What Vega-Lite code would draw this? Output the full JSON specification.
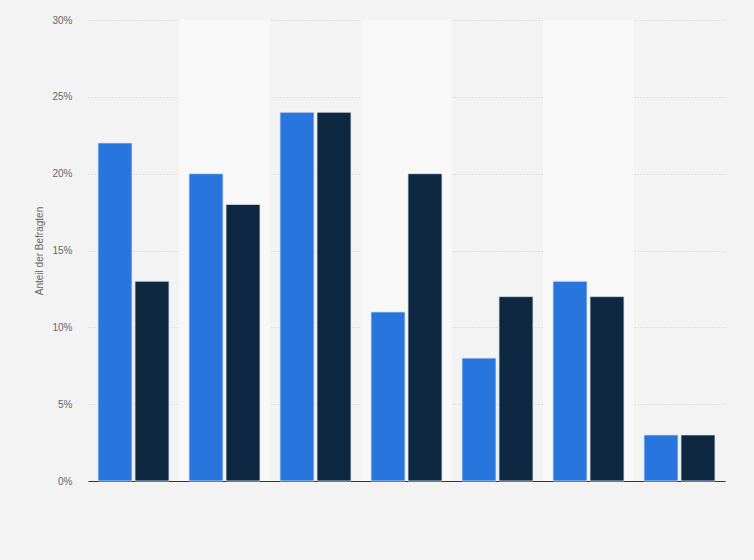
{
  "$schema": "https://vega.github.io/schema/vega-lite/v6.json",
  "width": 637,
  "height": 461,
  "autosize": {"type": "none"},
  "padding": {"left": 88, "top": 20, "right": 29, "bottom": 79},
  "background": "#f3f3f3",
  "config": {
    "view": {"stroke": null},
    "font": "Liberation Sans"
  },
  "data": {
    "values": [
      {"kategorie": "Kategorie 1", "gruppe": "Gruppe A", "anteil": 22},
      {"kategorie": "Kategorie 1", "gruppe": "Gruppe B", "anteil": 13},
      {"kategorie": "Kategorie 2", "gruppe": "Gruppe A", "anteil": 20},
      {"kategorie": "Kategorie 2", "gruppe": "Gruppe B", "anteil": 18},
      {"kategorie": "Kategorie 3", "gruppe": "Gruppe A", "anteil": 24},
      {"kategorie": "Kategorie 3", "gruppe": "Gruppe B", "anteil": 24},
      {"kategorie": "Kategorie 4", "gruppe": "Gruppe A", "anteil": 11},
      {"kategorie": "Kategorie 4", "gruppe": "Gruppe B", "anteil": 20},
      {"kategorie": "Kategorie 5", "gruppe": "Gruppe A", "anteil": 8},
      {"kategorie": "Kategorie 5", "gruppe": "Gruppe B", "anteil": 12},
      {"kategorie": "Kategorie 6", "gruppe": "Gruppe A", "anteil": 13},
      {"kategorie": "Kategorie 6", "gruppe": "Gruppe B", "anteil": 12},
      {"kategorie": "Kategorie 7", "gruppe": "Gruppe A", "anteil": 3},
      {"kategorie": "Kategorie 7", "gruppe": "Gruppe B", "anteil": 3}
    ]
  },
  "encoding": {
    "x": {
      "field": "kategorie",
      "type": "nominal",
      "scale": {"paddingInner": 0, "paddingOuter": 0},
      "axis": {
        "title": null,
        "labels": false,
        "ticks": false,
        "domainColor": "#333333",
        "domainWidth": 1,
        "grid": false
      }
    }
  },
  "layer": [
    {
      "transform": [
        {"filter": "indexof(['Kategorie 2', 'Kategorie 4', 'Kategorie 6'], datum.kategorie) >= 0"}
      ],
      "mark": {"type": "bar", "fill": "#f8f8f8"},
      "encoding": {
        "y": {"datum": 30, "type": "quantitative", "scale": {"domain": [0, 30]}}
      }
    },
    {
      "mark": {"type": "bar", "stroke": "#dde6f2", "strokeWidth": 0.8},
      "encoding": {
        "y": {
          "field": "anteil",
          "type": "quantitative",
          "scale": {"domain": [0, 30]},
          "axis": {
            "title": "Anteil der Befragten",
            "titleFont": "Liberation Sans",
            "titleFontSize": 10,
            "titleFontWeight": "normal",
            "titleColor": "#666666",
            "titlePadding": 7,
            "values": [0, 5, 10, 15, 20, 25, 30],
            "labelExpr": "datum.value + '%'",
            "labelFontSize": 10,
            "labelColor": "#666666",
            "labelPadding": 16,
            "ticks": false,
            "domain": false,
            "grid": true,
            "gridColor": "#cccccc",
            "gridDash": [1, 2],
            "gridWidth": 1
          }
        },
        "xOffset": {
          "field": "gruppe",
          "type": "nominal",
          "scale": {"paddingInner": 0.08, "paddingOuter": 0.27}
        },
        "color": {
          "field": "gruppe",
          "type": "nominal",
          "scale": {"range": ["#2876dd", "#0f2841"]},
          "legend": null
        }
      }
    }
  ]
}
